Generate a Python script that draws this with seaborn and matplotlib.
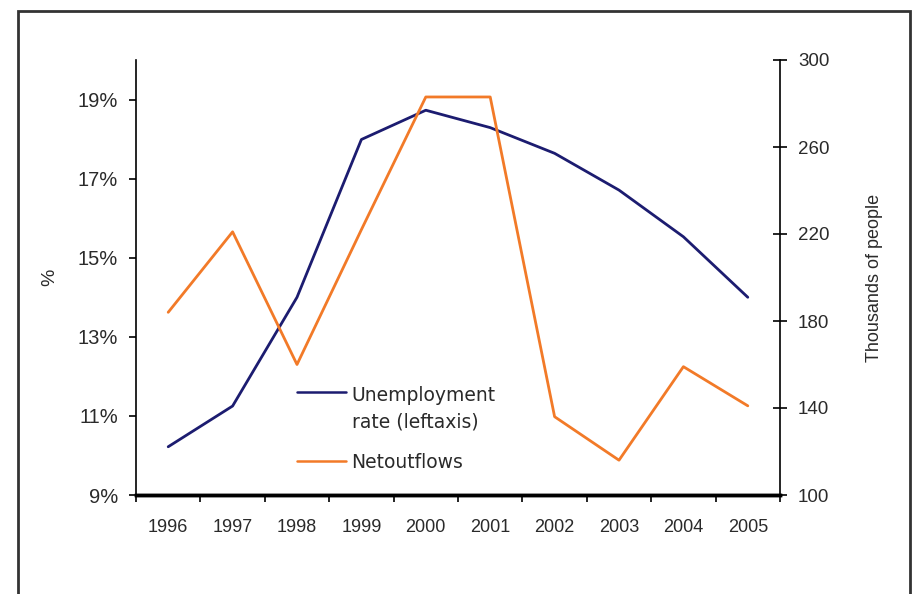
import numpy as np
import pandas as pd
import matplotlib
matplotlib.use("Agg")
import matplotlib.pyplot as plt
from matplotlib.patches import Rectangle
from matplotlib.lines import Line2D
import seaborn as sns

# Data
years = ["1996", "1997", "1998", "1999", "2000", "2001", "2002", "2003", "2004", "2005"]
unemployment = [10.22, 11.25, 14.0, 17.99, 18.73, 18.29, 17.64, 16.71, 15.53, 14.0]
net_outflows = [184, 221, 160, 222, 283, 283, 136, 116, 159, 141]
left_ticks = [9, 11, 13, 15, 17, 19]
right_ticks = [100, 140, 180, 220, 260, 300]

BLUE = "#1c1c70"
ORANGE = "#f27a28"
TXT = "#2a2a2a"

sns.set_style("white")
plt.rcParams["font.family"] = ["Liberation Sans", "DejaVu Sans"]

df = pd.DataFrame({"year": years, "pos": np.arange(len(years)),
                   "unemp": unemployment, "outflows": net_outflows})

fig = plt.figure(figsize=(9.15, 5.94), dpi=100)
ax = fig.add_axes([136 / 915, 1 - 495 / 594, 644 / 915, 435 / 594])
ax2 = ax.twinx()

sns.lineplot(data=df, x="pos", y="unemp", ax=ax, color=BLUE, linewidth=2.0)
sns.lineplot(data=df, x="pos", y="outflows", ax=ax2, color=ORANGE, linewidth=2.0)

# left axis
ax.set_ylim(9, 20)
ax.set_yticks(left_ticks)
ax.set_yticklabels([f"{t}%" for t in left_ticks])
ax.set_ylabel("%", fontsize=14, color=TXT, labelpad=14)
ax.tick_params(axis="y", direction="out", length=5, width=1.2, colors="black",
               labelcolor=TXT, labelsize=14.5, pad=8, left=True)

# right axis
ax2.set_ylim(100, 300)
ax2.set_yticks(right_ticks)
ax2.set_ylabel("Thousands of people", fontsize=13, color=TXT, labelpad=26)
ax2.tick_params(axis="y", direction="inout", length=10, width=1.2, colors="black",
                labelcolor=TXT, labelsize=13.5, pad=8, right=True)

# category x axis: labels at centers, tick marks at boundaries
ax.set_xlim(-0.5, len(years) - 0.5)
ax.set_xticks(df["pos"])
ax.set_xticklabels(years)
ax.set_xticks(np.arange(-0.5, len(years)), minor=True)
ax.tick_params(axis="x", which="major", length=0, labelsize=13, labelcolor=TXT, pad=17)
ax.tick_params(axis="x", which="minor", direction="out", length=5, width=1.2,
               colors="black", bottom=True)
ax.set_xlabel("")

for a in (ax, ax2):
    a.spines["top"].set_visible(False)
    for s in ("left", "right"):
        a.spines[s].set_color("black")
        a.spines[s].set_linewidth(1.2)
    a.spines["bottom"].set_color("black")
    a.spines["bottom"].set_linewidth(2.5)
ax.spines["right"].set_visible(False)
ax2.spines["left"].set_visible(False)

handles = [Line2D([], [], color=BLUE, lw=1.8), Line2D([], [], color=ORANGE, lw=1.8)]
labels = ["Unemployment\nrate (leftaxis)", "Netoutflows"]
leg = ax2.legend(handles, labels, loc="upper left", bbox_to_anchor=(0.224, 0.29),
                 frameon=False, handlelength=2.6, handletextpad=0.3,
                 labelspacing=1.1, labelcolor=TXT,
                 prop={"family": "DejaVu Sans", "size": 13.5})
for t in leg.get_texts():
    t.set_linespacing(1.55)
# put the first handle level with the first text line, as in the original
first = leg.get_lines()[0]
first.set_ydata(np.asarray(first.get_ydata()) + 13)

# outer chart frame
fig.patches.append(Rectangle((18 / 915, -0.05), 892 / 915, 1.05 - 11 / 594,
                             transform=fig.transFigure, fill=False,
                             edgecolor="#333333", linewidth=2))

fig.savefig("out.png", dpi=100)
